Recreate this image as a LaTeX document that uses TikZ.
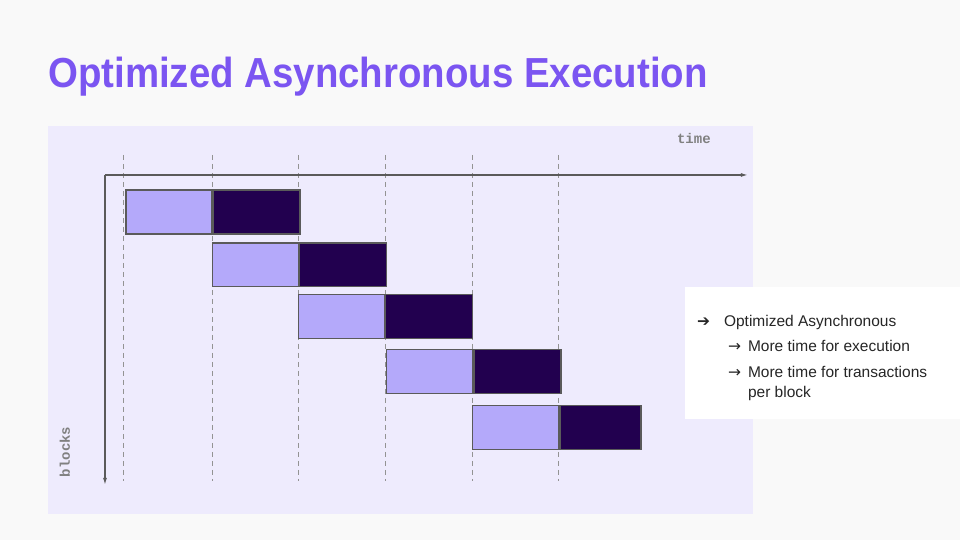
\documentclass[tikz,border=0pt]{standalone}
\usepackage{fontspec}
\setmainfont{Liberation Sans}
\newfontfamily\symfont{DejaVu Sans}
\newfontfamily\codefont{Liberation Mono}
\usetikzlibrary{arrows.meta,positioning}
\definecolor{pagebg}{HTML}{F9F9F9}
\definecolor{panelbg}{HTML}{EEEBFD}
\definecolor{titlepurple}{HTML}{7B55F1}
\definecolor{litebox}{HTML}{B4A9FA}
\definecolor{darkbox}{HTML}{22004F}
\definecolor{axisgray}{HTML}{5A5A5A}

\begin{document}
\begin{tikzpicture}[x=1pt, y=-1pt,
    lite/.style={draw=axisgray, line width=1.1pt, fill=litebox, inner sep=0pt, minimum width=86pt, minimum height=44pt},
    darkbk/.style={draw=axisgray, line width=1.1pt, fill=darkbox, inner sep=0pt, minimum width=87pt, minimum height=44pt},
    axis/.style={draw=axisgray, line width=1.2pt, -{Latex[length=7pt,width=4pt]}},
    grid/.style={draw=gray!85, line width=0.9pt, dash pattern=on 5pt off 4pt},
    lbl/.style={font=\codefont\fontsize{14}{14}\selectfont\bfseries, text=gray},
    item/.style={anchor=base west, inner sep=0pt, font=\fontsize{15.5}{19.5}\selectfont, text=black!85, align=left}
]
% canvas and panel
\fill[pagebg] (0,0) rectangle (960,540);
\fill[panelbg] (48,126) rectangle (753,514);

\node[anchor=base west, inner sep=0pt, text=titlepurple, font=\fontsize{42}{42}\selectfont\bfseries] (title) at (48,88) {\scalebox{0.915}[1]{Optimized Asynchronous Execution}};

% time slots
\foreach \x in {123,212,299,386,473,559}
    \draw[grid] (\x,155) -- (\x,481);

% axes
\coordinate (o) at (105,175);
\coordinate (tend) at (748,175);
\coordinate (bend) at (105,485);
\draw[axis] (o) -- (tend);
\draw[axis] (o) -- (bend);
\node[lbl, anchor=base] (time) at (694,144) {time};
\node[lbl, rotate=90, anchor=base] (blocks) at (70,452) {blocks};

% blocks
\node[lite] (l1) at (169,212) {};
\node[darkbk, right=0pt of l1] (d1) {};
\node[lite] (l2) at (255.5,265) {};
\node[darkbk, right=0pt of l2] (d2) {};
\node[lite] (l3) at (341.5,317) {};
\node[darkbk, right=0pt of l3] (d3) {};
\node[lite] (l4) at (430,372) {};
\node[darkbk, right=0pt of l4] (d4) {};
\node[lite] (l5) at (516,428) {};
\node[darkbk, minimum width=81pt, right=0pt of l5] (d5) {};

% notes
\node[fill=white, inner sep=0pt, minimum width=275pt, minimum height=132pt, anchor=north west] (note) at (685,287) {};
\node[item] (a1) at (697,327) {\symfont ➔};
\node[item] (t1) at (724,327) {Optimized Asynchronous};
\node[item] (a2) at (728,352) {\symfont →};
\node[item] (t2) at (748,352) {More time for execution};
\node[item] (a3) at (728,378) {\symfont →};
% base of a two-line node is its last line
\node[item] (t3) at (748,397.5) {More time for transactions\\per block};
\end{tikzpicture}
\end{document}
